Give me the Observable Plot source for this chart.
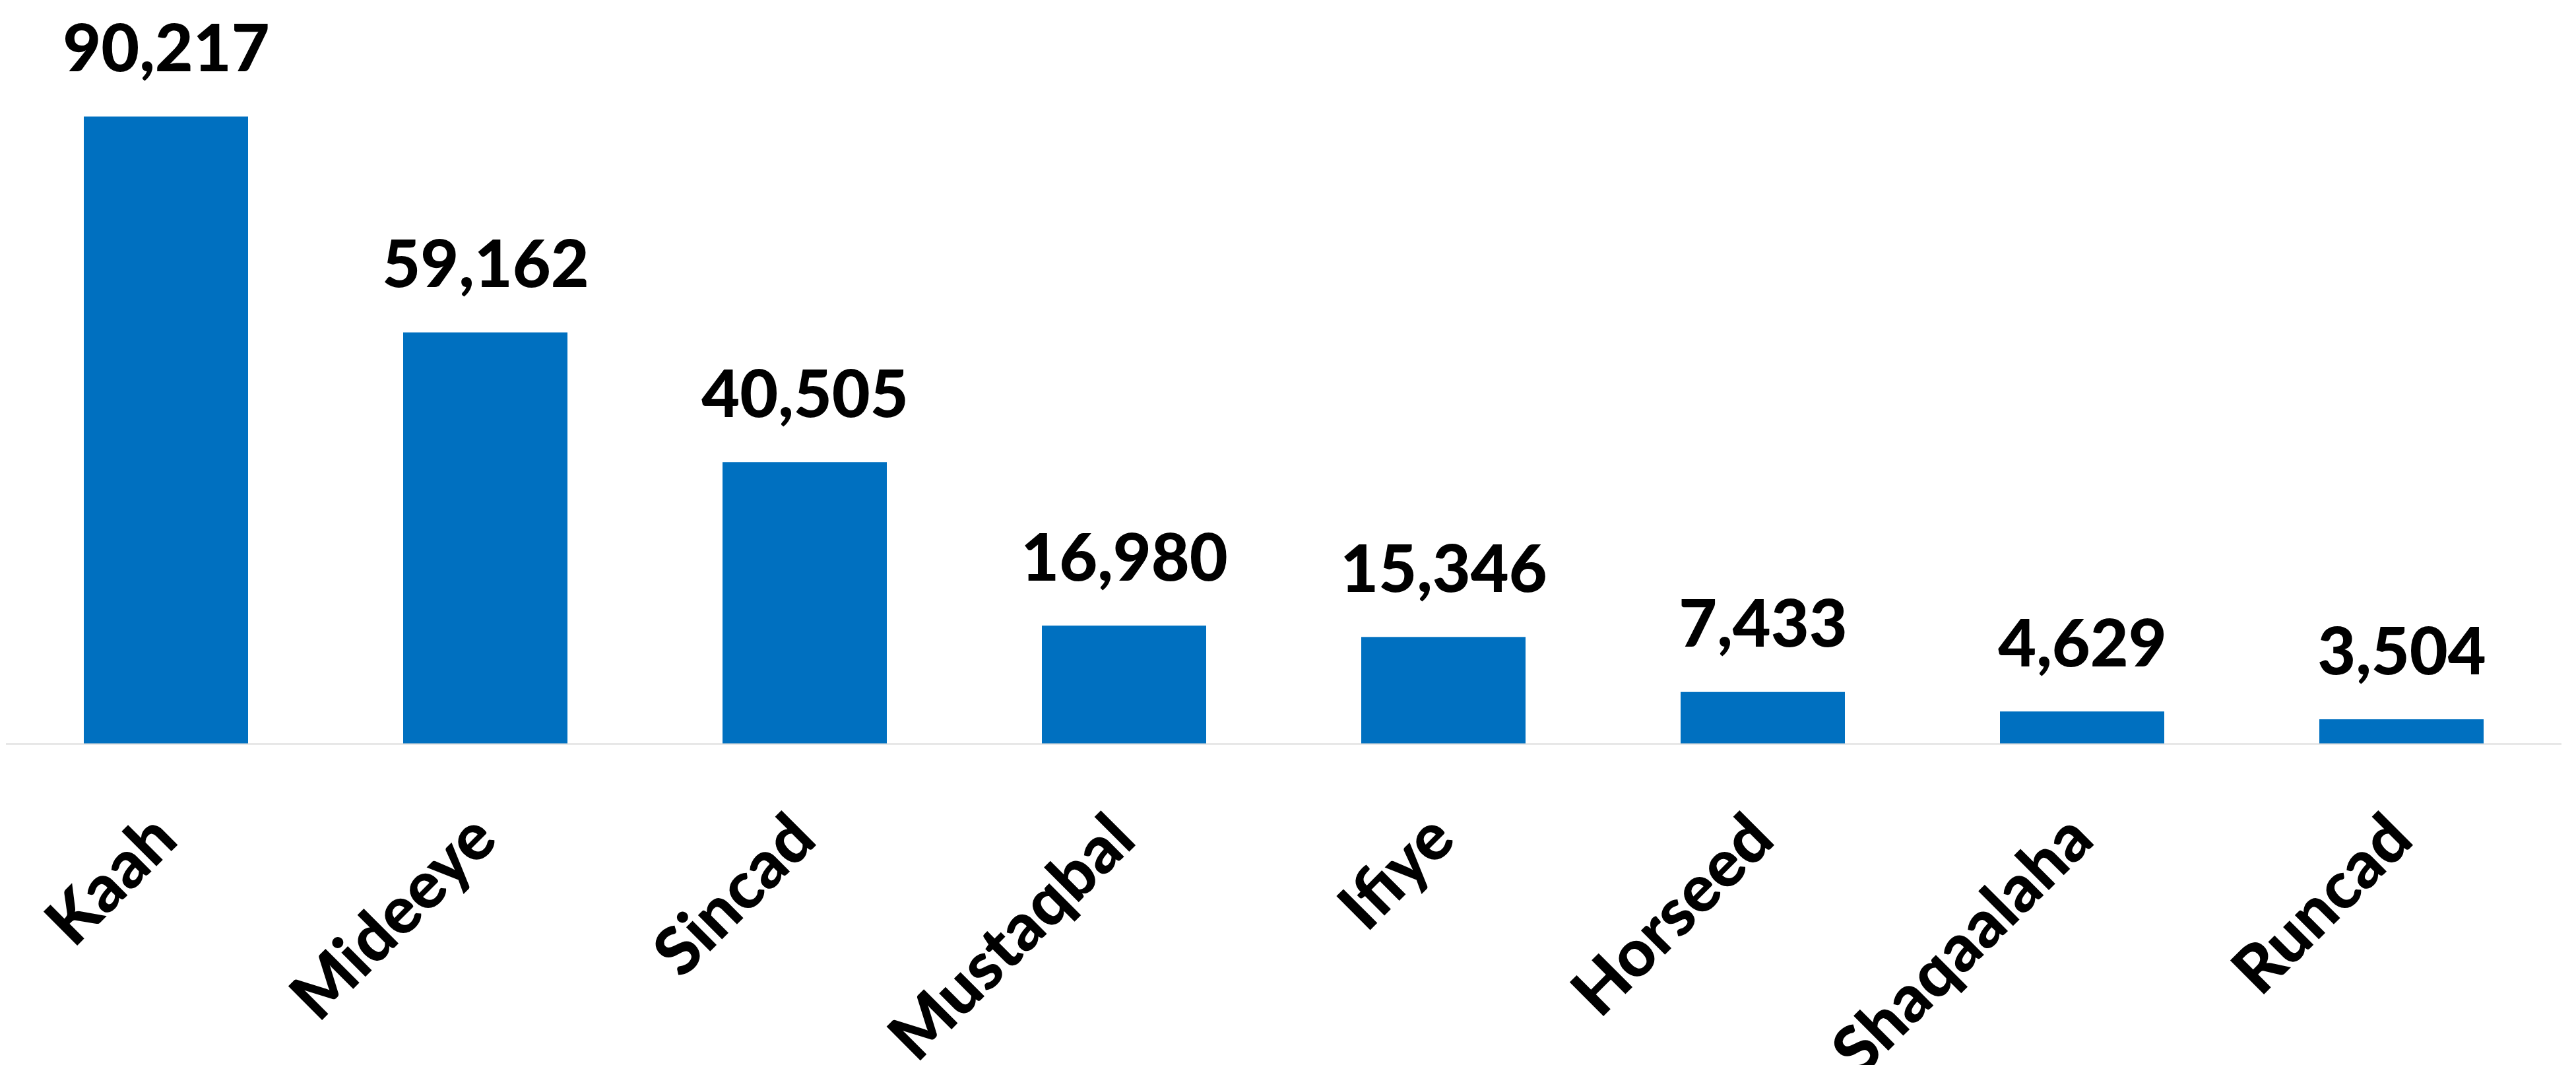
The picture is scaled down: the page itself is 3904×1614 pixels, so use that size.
<!DOCTYPE html>
<html>
<head>
<meta charset="utf-8">
<script src="https://cdn.jsdelivr.net/npm/d3@7"></script>
<script src="https://cdn.jsdelivr.net/npm/@observablehq/plot@0.6"></script>
<style>
  html, body { margin: 0; padding: 0; background: #ffffff; overflow: hidden; }
  #chart svg { display: block; }
</style>
</head>
<body>
<div id="chart"></div>
<script>
const categories = ["Kaah", "Mideeye", "Sincad", "Mustaqbal", "Ifiye", "Horseed", "Shaqaalaha", "Runcad"];
const values = [90217, 59162, 40505, 16980, 15346, 7433, 4629, 3504];

const table = categories.map((name, i) => ({name, value: values[i]}));
const fmt = d3.format(",");

const chart = Plot.plot({
  width: 3904,
  height: 1614,
  marginLeft: 9,
  marginRight: 22,
  marginTop: 73.5,
  marginBottom: 487,
  style: {fontFamily: "Lato, 'Noto Sans', sans-serif", background: "#ffffff", overflow: "visible"},
  x: {domain: categories, paddingInner: 0.486, paddingOuter: 0.243, label: null},
  y: {domain: [0, 100000], axis: null},
  marks: [
    Plot.barY(table, {x: "name", y: "value", fill: "#0070C0"}),
    Plot.ruleY([0], {stroke: "#D9D9D9", strokeWidth: 2}),
    Plot.text(table, {
      x: "name", y: "value", text: d => fmt(d.value),
      lineAnchor: "bottom", dy: -69,
      fontSize: 100, fontWeight: 900, fill: "#000000"
    }),
    Plot.axisX({
      label: null, tickSize: 0, tickPadding: 0, tickRotate: -45,
      textAnchor: "end", lineAnchor: "top",
      dx: -29, dy: 99,
      fontSize: 100, fontWeight: 900, fill: "#000000"
    })
  ]
});
document.getElementById("chart").appendChild(chart);
</script>
</body>
</html>
